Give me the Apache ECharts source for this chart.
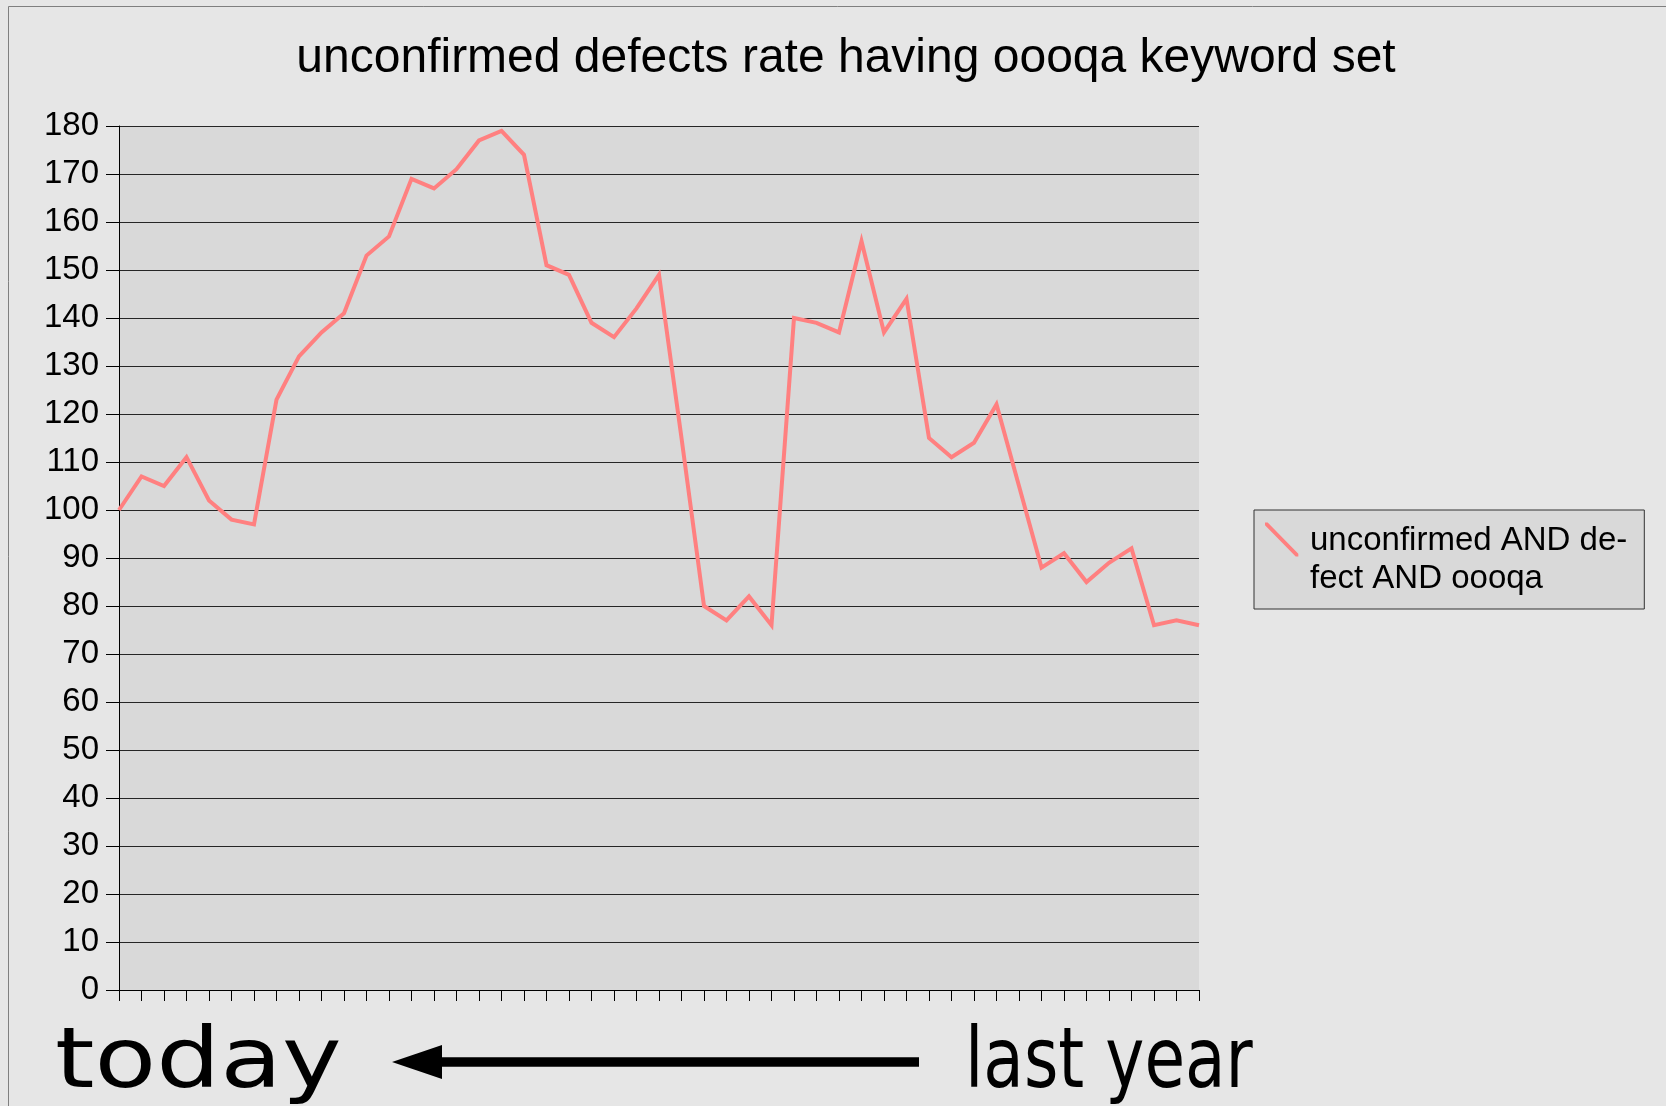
<!DOCTYPE html>
<html>
<head>
<meta charset="utf-8">
<title>unconfirmed defects rate having oooqa keyword set</title>
<script src="https://cdn.jsdelivr.net/npm/echarts@6/dist/echarts.min.js"></script>
<style>
  html, body { margin: 0; padding: 0; background: #e6e6e6; }
  #chart { width: 1666px; height: 1106px; }
</style>
</head>
<body>
<div id="chart"></div>
<script>
// weeks back from today (0 = today, 48 = about a year ago)
var weeks = ['0', '1', '2', '3', '4', '5', '6', '7', '8', '9',
  '10', '11', '12', '13', '14', '15', '16', '17', '18', '19',
  '20', '21', '22', '23', '24', '25', '26', '27', '28', '29',
  '30', '31', '32', '33', '34', '35', '36', '37', '38', '39',
  '40', '41', '42', '43', '44', '45', '46', '47', '48'];

// unconfirmed AND defect AND oooqa
var unconfirmed = [100, 107, 105, 111, 102, 98, 97, 123, 132, 137,
  141, 153, 157, 169, 167, 171, 177, 179, 174, 151,
  149, 139, 136, 142, 149, 115, 80, 77, 82, 76,
  140, 139, 137, 156, 137, 144, 115, 111, 114, 122,
  105, 88, 91, 85, 89, 92, 76, 77, 76];

var yMin = 0;
var yMax = 180;
var yStep = 10;

var seriesName = 'unconfirmed AND defect AND oooqa';
var legendLines = ['unconfirmed AND de-', 'fect AND oooqa'];
var chartTitle = 'unconfirmed defects rate having oooqa keyword set';

var sans = "'Liberation Sans', Arial, sans-serif";
var dejavu = "'DejaVu Sans', Verdana, sans-serif";

var chart = echarts.init(document.getElementById('chart'));

var option = {
  backgroundColor: '#e6e6e6',
  animation: false,
  grid: {
    left: 119,
    right: 467,
    top: 126,
    bottom: 116,
    show: true,
    backgroundColor: '#d9d9d9',
    borderWidth: 0,
    containLabel: false,
    outerBoundsMode: 'none'
  },
  legend: {
    data: [seriesName],
    orient: 'vertical',
    left: 1254,
    top: 510,
    padding: [12, 17, 11, 11],
    backgroundColor: '#d9d9d9',
    borderColor: '#333',
    borderWidth: 1,
    borderRadius: 0,
    itemWidth: 40,
    itemHeight: 75,
    symbolKeepAspect: false,
    // diagonal stroke in the top-left, tiny speck at bottom-right keeps the box size
    icon: 'path://M0,0L0.8,0L10,9.2L10,10L9.2,10L0,0.8ZM12,22L12,21.99L11.99,22Z',
    itemStyle: { borderWidth: 0 },
    formatter: function () { return legendLines.join('\n'); },
    textStyle: { fontFamily: sans, fontSize: 33, lineHeight: 38, color: '#000' }
  },
  xAxis: {
    type: 'category',
    data: weeks,
    boundaryGap: false,
    axisLine: { show: true, lineStyle: { color: '#000', width: 1 } },
    axisTick: { show: true, interval: 0, length: 11, lineStyle: { color: '#000', width: 1 } },
    axisLabel: { show: false },
    splitLine: { show: false }
  },
  yAxis: {
    type: 'value',
    min: yMin,
    max: yMax,
    interval: yStep,
    axisLine: { show: true, lineStyle: { color: '#000', width: 1 } },
    axisTick: { show: true, length: 13, lineStyle: { color: '#000', width: 1 } },
    axisLabel: { margin: 20, color: '#000', fontFamily: sans, fontSize: 33 },
    splitLine: { show: true, lineStyle: { color: '#262626', width: 1 } }
  },
  series: [{
    name: seriesName,
    type: 'line',
    data: unconfirmed,
    symbol: 'none',
    showSymbol: false,
    lineStyle: { color: '#ff8080', width: 4, join: 'miter' },
    itemStyle: { color: '#ff8080' }
  }],
  graphic: [
    { // outer frame
      type: 'rect',
      shape: { x: 8.5, y: 6.5, width: 1700, height: 1200 },
      style: { fill: 'none', stroke: '#7f7f7f', lineWidth: 1 }
    },
    {
      type: 'text',
      x: 846,
      y: 59,
      style: {
        text: chartTitle,
        fill: '#000',
        font: '48px ' + sans,
        align: 'center', verticalAlign: 'middle',
        textAlign: 'center', textVerticalAlign: 'middle'
      }
    },
    {
      type: 'text',
      x: 55,
      y: 1065,
      scaleX: 1.2,
      style: {
        text: 'today',
        fill: '#000',
        font: '84px ' + dejavu,
        align: 'left', verticalAlign: 'middle',
        textAlign: 'left', textVerticalAlign: 'middle'
      }
    },
    {
      type: 'text',
      x: 965,
      y: 1065,
      scaleX: 0.787,
      style: {
        text: 'last year',
        fill: '#000',
        font: '84px ' + dejavu,
        align: 'left', verticalAlign: 'middle',
        textAlign: 'left', textVerticalAlign: 'middle'
      }
    },
    { // arrow head
      type: 'polygon',
      shape: { points: [[392, 1062], [442, 1045], [442, 1079]] },
      style: { fill: '#000' }
    },
    { // arrow shaft
      type: 'rect',
      shape: { x: 440, y: 1057.3, width: 479, height: 9.4 },
      style: { fill: '#000' }
    }
  ]
};

chart.setOption(option);
</script>
</body>
</html>
